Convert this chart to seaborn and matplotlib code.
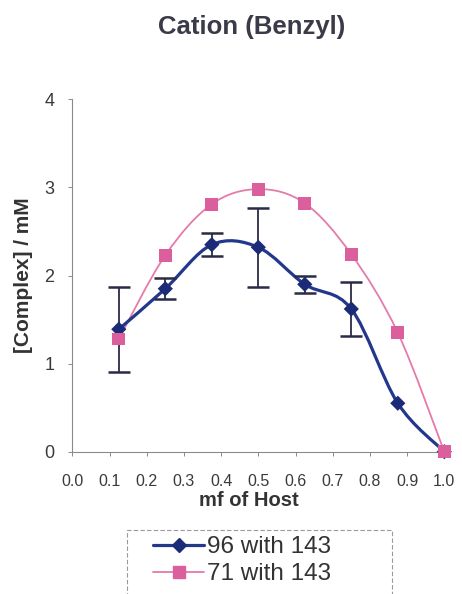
import numpy as np
import pandas as pd
import seaborn as sns
import matplotlib
matplotlib.use("Agg")
import matplotlib.pyplot as plt
from matplotlib.path import Path
from matplotlib.patches import PathPatch, Rectangle
from matplotlib.lines import Line2D

# Mole fraction of host
mf_host = [0.125, 0.25, 0.375, 0.5, 0.625, 0.75, 0.875, 1.0]
# [Complex] / mM for each host-guest pair
complex_96_143 = [1.39, 1.85, 2.35, 2.32, 1.90, 1.62, 0.55, 0.0]
err_96_143 = [0.48, 0.12, 0.13, 0.45, 0.10, 0.31, 0.0, 0.0]
complex_71_143 = [1.28, 2.23, 2.81, 2.98, 2.82, 2.24, 1.35, 0.0]

x_ticks = [0.0, 0.1, 0.2, 0.3, 0.4, 0.5, 0.6, 0.7, 0.8, 0.9, 1.0]
x_ticklabels = ["0.0", "0.1", "0.2", "0.3", "0.4", "0.5", "0.6", "0.7", "0.8", "0.9", "1.0"]
y_ticks = [0, 1, 2, 3, 4]

BLUE_LINE = "#23378c"
BLUE_MARK = "#1b2b78"
PINK_LINE = "#e57aab"
PINK_MARK = "#dc5f9d"
ERR_COLOR = "#2b2b45"

sns.set_theme(style="white")
plt.rcParams["font.family"] = ["Liberation Sans", "DejaVu Sans"]

df = pd.DataFrame({
    "mf": mf_host * 2,
    "complex": complex_96_143 + complex_71_143,
    "series": ["96 with 143"] * len(mf_host) + ["71 with 143"] * len(mf_host),
})

fig = plt.figure(figsize=(4.62, 5.94), dpi=100)
ax = fig.add_axes([72.3 / 462, 1 - 451.7 / 594, (444.3 - 72.3) / 462, (451.7 - 99.3) / 594])


def smooth_path(xs, ys):
    """Bezier path through the points, spreadsheet-style smoothing."""
    pts = np.column_stack([xs, ys])
    n = len(pts)
    verts = [pts[0]]
    codes = [Path.MOVETO]
    for i in range(n - 1):
        p0 = pts[i - 1] if i > 0 else pts[i]
        p1 = pts[i]
        p2 = pts[i + 1]
        p3 = pts[i + 2] if i + 2 < n else pts[i + 1]
        c1 = p1 + (p2 - p0) / 6.0
        c2 = p2 - (p3 - p1) / 6.0
        verts += [c1, c2, p2]
        codes += [Path.CURVE4] * 3
    return Path(verts, codes)


ax.add_patch(PathPatch(smooth_path(mf_host, complex_71_143), facecolor="none",
                       edgecolor=PINK_LINE, lw=1.3, zorder=2, clip_on=False))
ax.add_patch(PathPatch(smooth_path(mf_host, complex_96_143), facecolor="none",
                       edgecolor=BLUE_LINE, lw=2.3, zorder=3, clip_on=False))

# Error bars only where a deviation was measured
has_err = [e > 0 for e in err_96_143]
ax.errorbar([x for x, h in zip(mf_host, has_err) if h],
            [y for y, h in zip(complex_96_143, has_err) if h],
            yerr=[e for e, h in zip(err_96_143, has_err) if h], fmt="none",
            ecolor=ERR_COLOR, elinewidth=1.3, capsize=8, capthick=1.8, zorder=4)

sns.scatterplot(data=df, x="mf", y="complex", hue="series", style="series",
                markers={"96 with 143": "D", "71 with 143": "s"},
                palette={"96 with 143": BLUE_MARK, "71 with 143": PINK_MARK},
                size="series", sizes={"96 with 143": 60, "71 with 143": 85},
                edgecolor="none", linewidth=0, legend=False, ax=ax,
                zorder=5, clip_on=False)

ax.set_xlim(0, 1.0)
ax.set_ylim(0, 4)
ax.set_xticks(x_ticks)
ax.set_xticklabels(x_ticklabels)
ax.set_yticks(y_ticks)

for side in ["top", "right"]:
    ax.spines[side].set_visible(False)
for side in ["left", "bottom"]:
    ax.spines[side].set_color("#8a8a8a")
    ax.spines[side].set_linewidth(0.8)

ax.tick_params(axis="both", which="major", direction="out", length=3, width=0.7,
               color="#8a8a8a", labelcolor="#3a3a3a")
ax.tick_params(axis="x", labelsize=11.5, pad=13)
ax.tick_params(axis="y", labelsize=13, pad=10)
ax.tick_params(left=True, bottom=True)

ax.set_xlabel("mf of Host", fontsize=14.5, fontweight="bold", color="#333333")
ax.xaxis.set_label_coords(0.475, -0.112)
ax.set_ylabel("[Complex] / mM", fontsize=15, fontweight="bold", color="#333333", labelpad=8)

fig.text(252 / 462, 1 - 27 / 594, "Cation (Benzyl)", ha="center", va="center",
         fontsize=18.5, fontweight="bold", color="#3a3a48")

# Legend box
fig.patches.append(Rectangle((127 / 462, -0.05), (392 - 127) / 462, 0.05 + (594 - 530) / 594,
                             transform=fig.transFigure, facecolor="white",
                             edgecolor="#9a9a9a", lw=0.8, linestyle=(0, (4, 2))))
handles = [
    Line2D([], [], color=BLUE_LINE, lw=2.3, marker="D", markersize=7.5,
           markerfacecolor=BLUE_MARK, markeredgecolor=BLUE_MARK),
    Line2D([], [], color=PINK_LINE, lw=1.3, marker="s", markersize=9,
           markerfacecolor=PINK_MARK, markeredgecolor=PINK_MARK),
]
fig.legend(handles, ["96 with 143", "71 with 143"], loc="upper left",
           bbox_to_anchor=(141 / 462, 1 - 524 / 594), frameon=False,
           fontsize=17.5, handlelength=2.1, handletextpad=0.1, labelspacing=0.2,
           borderpad=0, labelcolor="#333333")

fig.savefig("out.png", dpi=100)
